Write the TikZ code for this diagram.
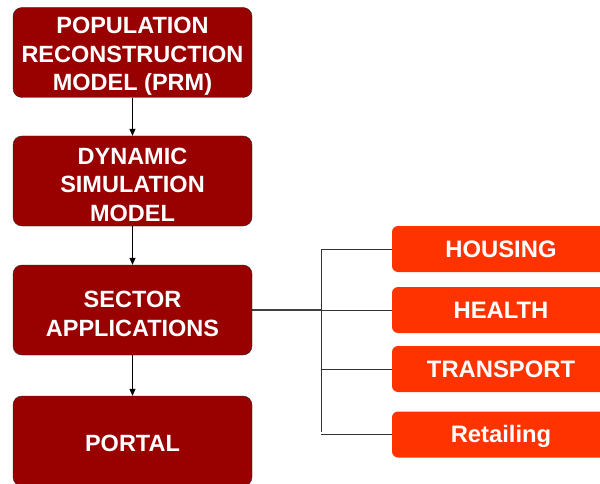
\documentclass[tikz,border=0pt]{standalone}
\usepackage{fontspec}
\setmainfont{Liberation Sans}
\usetikzlibrary{positioning, arrows.meta}

\definecolor{darkbox}{HTML}{990000}
\definecolor{sectorbox}{HTML}{FF3300}

\begin{document}
\begin{tikzpicture}[x=1pt, y=-1pt,
    model/.style = {shape = rectangle, rounded corners = 9pt, draw = black!85, fill = darkbox,
        text = white, font = \fontsize{23.5}{28.5}\selectfont\bfseries, align = center,
        minimum width = 239pt, minimum height = 90pt, inner sep = 0pt},
    sector/.style = {shape = rectangle, rounded corners = 6pt, fill = sectorbox,
        text = white, font = \fontsize{23.8}{27}\selectfont\bfseries,
        minimum width = 218pt, minimum height = 46pt, inner sep = 0pt},
    flow/.style = {-{Triangle[length = 7pt, width = 6pt]}, black, line width = 0.7pt}]
            \useasboundingbox (0, 0) rectangle (600, 484);

            \node [model] (prm) at (132.5, 52.5) {\rule{0pt}{24pt}POPULATION\\RECONSTRUCTION\\MODEL (PRM)};
            \node [model] (dsm) at (132.5, 181) {\rule{0pt}{24pt}DYNAMIC\\SIMULATION\\MODEL};
            \node [model] (apps) at (132.5, 310) {\rule{0pt}{24pt}SECTOR\\APPLICATIONS};
            \node [model] (portal) at (132.5, 441) {\rule{0pt}{22pt}PORTAL};

            \node [sector] (housing) at (501, 249) {HOUSING};
            \node [sector] (health) at (501, 310) {HEALTH};
            \node [sector] (transport) at (501, 369) {TRANSPORT};
            \node [sector] (retailing) at (501, 434.5) {\rule{0pt}{21pt}Retailing};

            \coordinate (branch) at (321, 310);

            \draw [flow] (prm) -- (dsm);
            \draw [flow] (dsm) -- (apps);
            \draw [flow] (apps) -- (portal);

            \draw [line width = 1.6pt, black!75] (apps.east) -- (branch);
            \draw [line width = 0.8pt, black!80] (housing.west -| branch) -- ([yshift = 3pt] retailing.west -| branch);
            \draw [line width = 0.8pt, black!80] (branch |- housing.west) -- (housing.west);
            \draw [line width = 0.8pt, black!80] (branch |- health.west) -- (health.west);
            \draw [line width = 0.8pt, black!80] (branch |- transport.west) -- (transport.west);
            \draw [line width = 0.8pt, black!80] (branch |- retailing.west) -- (retailing.west);
        \end{tikzpicture}
\end{document}
